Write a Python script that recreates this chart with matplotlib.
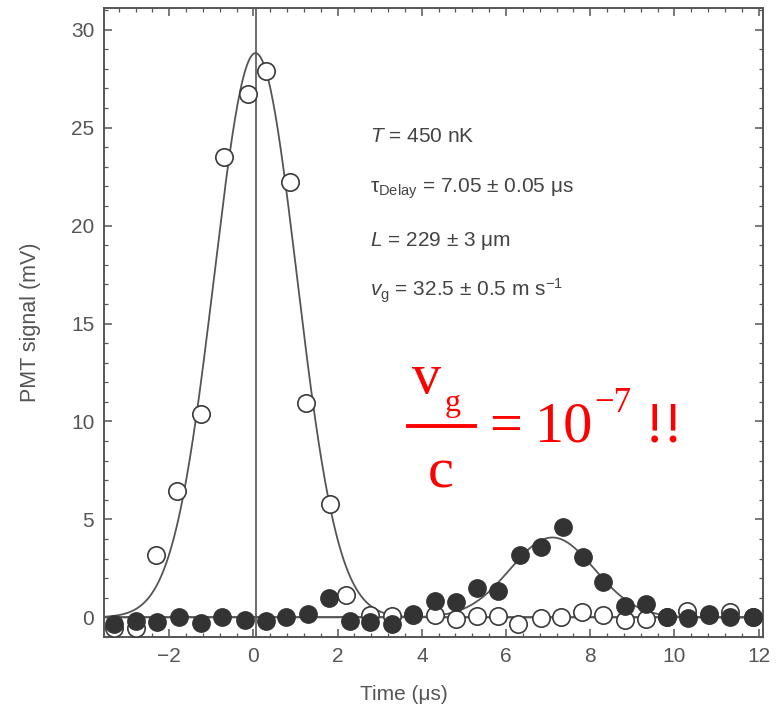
import numpy as np
import matplotlib
matplotlib.use('Agg')
import matplotlib.pyplot as plt
from matplotlib.ticker import MultipleLocator

plt.rcParams['font.family'] = ['Liberation Sans', 'DejaVu Sans']
plt.rcParams['mathtext.fontset'] = 'custom'
plt.rcParams['mathtext.rm'] = 'Liberation Serif'
plt.rcParams['mathtext.sf'] = 'Liberation Sans'
plt.rcParams['mathtext.it'] = 'Liberation Sans:italic'

# input pulse (open circles), no atoms
t_ref = [-3.31, -2.79, -2.31, -1.81, -1.24, -0.71, -0.14, 0.30, 0.86, 1.26,
         1.83, 2.21, 2.78, 3.29, 3.79, 4.31, 4.81, 5.31, 5.81, 6.28, 6.83,
         7.30, 7.81, 8.30, 8.83, 9.33, 9.83, 10.31, 10.81, 11.33, 11.86]
s_ref = [-0.55, -0.55, 3.2, 6.45, 10.4, 23.5, 26.7, 27.9, 22.2, 10.95,
         5.8, 1.12, 0.1, 0.05, 0.1, 0.1, -0.1, 0.05, 0.05, -0.35, -0.05,
         0.0, 0.27, 0.1, -0.15, -0.1, 0.0, 0.34, 0.1, 0.27, 0.0]

# delayed pulse through the condensate (filled circles)
t_slow = [-3.31, -2.79, -2.28, -1.76, -1.24, -0.74, -0.21, 0.29, 0.78, 1.29,
          1.79, 2.29, 2.76, 3.29, 3.79, 4.31, 4.81, 5.31, 5.81, 6.33, 6.83,
          7.36, 7.83, 8.31, 8.83, 9.33, 9.83, 10.33, 10.81, 11.31, 11.86]
s_slow = [-0.36, -0.2, -0.25, 0.0, -0.3, 0.0, -0.15, -0.2, 0.0, 0.2,
          0.97, -0.2, -0.25, -0.36, 0.15, 0.82, 0.77, 1.48, 1.33, 3.21, 3.57,
          4.59, 3.06, 1.79, 0.56, 0.71, 0.0, -0.05, 0.15, 0.0, 0.0]

# gaussian fits: amplitude, centre, width
fit_ref = (28.8, 0.05, 0.98)
fit_slow = (4.08, 7.1, 1.0)

grey = '#555555'
dark = '#333333'

fig = plt.figure(figsize=(7.76, 7.12), dpi=100)
ax = fig.add_axes([0.134, 0.1053, 0.849, 0.8834])

tt = np.linspace(-3.6, 12.1, 800)
for A, t0, sig in (fit_ref, fit_slow):
    ax.plot(tt, A * np.exp(-(tt - t0)**2 / (2 * sig**2)), color=grey, lw=1.3, zorder=2)

ax.axhline(0, color=grey, lw=1.2, zorder=1)
ax.axvline(0.05, color=grey, lw=1.2, zorder=1)

ax.plot(t_ref, s_ref, 'o', ms=12.5, mfc='white', mec='#3a3a3a', mew=1.2, zorder=3)
ax.plot(t_slow, s_slow, 'o', ms=12.5, mfc=dark, mec=dark, mew=1.0, zorder=4)

ax.set_xlim(-3.55, 12.1)
ax.set_ylim(-1.0, 31.1)
ax.xaxis.set_major_locator(MultipleLocator(2))
ax.xaxis.set_minor_locator(MultipleLocator(0.4))
ax.yaxis.set_major_locator(MultipleLocator(5))
ax.yaxis.set_minor_locator(MultipleLocator(1))
ax.tick_params(which='both', direction='in', top=True, right=True,
               color=grey, labelcolor='#555555', labelsize=15)
ax.tick_params(which='major', length=6, width=1.1, pad=7)
ax.tick_params(which='minor', length=3, width=0.9)
for sp in ax.spines.values():
    sp.set_color(grey)
    sp.set_linewidth(1.4)

ax.set_xlabel('Time (μs)', fontsize=15, color='#555555')
ax.set_ylabel('PMT signal (mV)', fontsize=15.5, color='#555555')
ax.xaxis.set_label_coords(0.455, -0.076)
ax.yaxis.set_label_coords(-0.096, 0.5)

txt = dict(fontsize=15, color='#444444', ha='left', va='center', transform=fig.transFigure)
fx = 370 / 776
fig.text(fx, 1 - 136 / 712, r'$T$ = 450 nK', **txt)
fig.text(fx, 1 - 189 / 712, r'$\mathsf{\tau_{Delay}}$ = 7.05 ± 0.05 μs', **txt)
fig.text(fx, 1 - 241 / 712, r'$L$ = 229 ± 3 μm', **txt)
fig.text(fx, 1 - 291 / 712, r'$v_{\mathsf{g}}$ = 32.5 ± 0.5 m s$^{\mathsf{-1}}$', **txt)

# red v_g / c = 10^-7 !! remark
def px(x, y):
    return x / 776, 1 - y / 712

red = dict(color='red', family='Liberation Serif', transform=fig.transFigure)
fig.text(*px(427, 393), 'v', fontsize=42, ha='center', va='baseline', **red)
fig.text(*px(453, 411), 'g', fontsize=23, ha='center', va='baseline', **red)
(x0, y0), (x1, _) = px(408, 426), px(475, 426)
fig.add_artist(plt.Line2D([x0, x1], [y0, y0], color='red', lw=2.8,
                          transform=fig.transFigure))
fig.text(*px(441, 488), 'c', fontsize=42, ha='center', va='baseline', **red)
fig.text(*px(506, 442), '=', fontsize=42, ha='center', va='baseline', **red)
fig.text(*px(535, 442), '10', fontsize=42, ha='left', va='baseline', **red)
fig.text(*px(594, 412), '−7', fontsize=25, ha='left', va='baseline', **red)
fig.text(*px(645, 442), '!!', fontsize=42, ha='left', va='baseline', **red)

fig.savefig('out.png', dpi=100)
